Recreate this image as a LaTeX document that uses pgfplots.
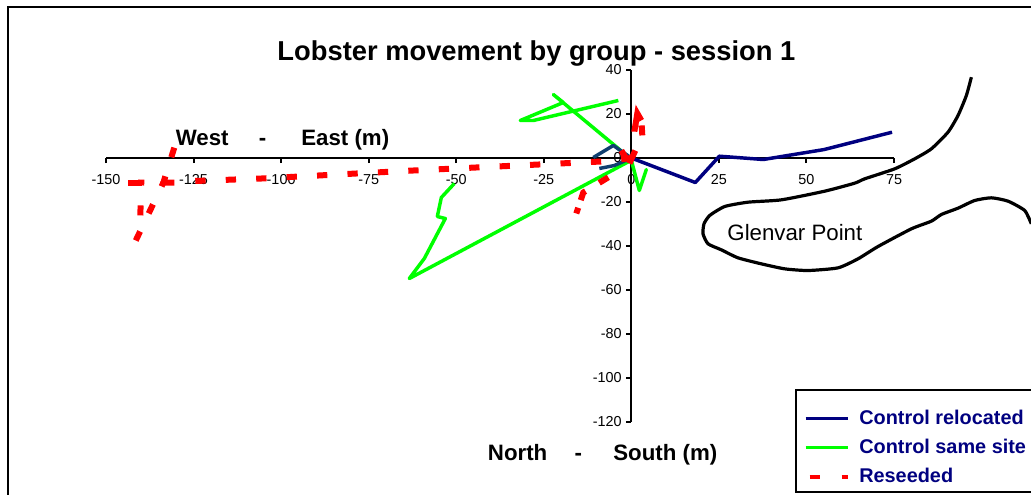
\documentclass[border=0pt]{standalone}
\usepackage{pgfplots}
\pgfplotsset{compat=1.18}
\usepackage{fontspec}
\setmainfont{Liberation Sans}
\definecolor{legnavy}{HTML}{000080}
\definecolor{tealnavy}{HTML}{103F70}
\definecolor{lime}{HTML}{00FF00}
\begin{document}
\begin{tikzpicture}[x=0.75pt,y=0.75pt]
\useasboundingbox (0,0) rectangle (1031,494);
\draw[black,line width=1.5pt] (8,-5) -- (8,486.5) -- (1040,486.5);
\begin{axis}[
  at={(106pt*0.75,72pt*0.75)},
  scale only axis,
  width=591pt,height=264pt,
  anchor=south west,
  xmin=-150,xmax=75,ymin=-120,ymax=40,
  axis lines=middle,
  axis line style={-,line width=1.5pt,black},
  clip=false,
  xtick={-150,-125,-100,-75,-50,-25,0,25,50,75},
  ytick={-120,-100,-80,-60,-40,-20,0,20,40},
  hide obscured x ticks=false,
  hide obscured y ticks=false,
  tick style={black,line width=1.5pt},
  tick align=outside,
  major tick length=3.75pt,
  ticklabel style={font=\fontsize{10.8pt}{12pt}\selectfont,text=black},
  xticklabel style={yshift=-5pt},
  /pgf/number format/assume math mode=true,
  legend style={
    at={(axis description cs:0.8756,0.0909)},anchor=north west,
    draw=none,fill=none,
    font=\fontsize{14.9pt}{16pt}\selectfont\bfseries\color{legnavy},
    inner xsep=5.75pt,inner ysep=13pt,
    row sep=5.5pt,
    cells={anchor=west},
  },
  legend cell align=left,
  legend image code/.code={\draw[#1] (0pt,0pt) -- (31.5pt,0pt);},
]
\addplot[legnavy,line width=2.6pt,line join=round] coordinates {
 (74.44,11.73)(55.1,3.86)(37.69,-0.68)(25.13,0.82)(18.27,-11.14)(0,0)};
\addlegendentry{\hspace*{5.25pt}Control relocated}
\addplot[lime,line width=2.6pt,line join=round] coordinates {
 (-3.71,26.14)(-27.98,17.05)(-31.7,17.05)(-19.42,25.23)(-22.27,28.86)(-3.71,4.32)(0,-1)
 (2.28,-14.77)(4.28,-5.23)(2.28,-14.77)(0,-1)
 (-63.39,-54.77)(-59.11,-45.68)(-53.11,-27.5)(-55.4,-26.6)(-54.25,-17.95)(-50.54,-11.59)};
\addlegendentry{\hspace*{5.25pt}Control same site}
\addplot[forget plot,tealnavy,line width=2.6pt,line join=round] coordinates {
 (0,0)(-5.14,5.68)(-10.85,0.23)};
\addplot[forget plot,tealnavy,line width=2.6pt,line join=round] coordinates {
 (0,0)(-4.85,-3.41)(-9.14,-4.77)};
% main east-west run of the reseeded group
\addplot[red,line width=4.5pt,dash pattern=on 7.7pt off 15.15pt,
  legend image code/.code={\draw[red,line width=3pt,dash pattern=on 7.5pt off 16.5pt] (3pt,0pt) -- (31.5pt,0pt);}] coordinates {
 (-124.5,-10.45)(-105.65,-9.32)(-62.25,-5.68)(-8.57,-1.59)(0,0)};
\addlegendentry{\hspace*{5.25pt}Reseeded}
\addplot[forget plot,red,line width=4.5pt,dash pattern=on 7.5pt off 15pt on 13pt off 15pt] coordinates {
 (-130.5,4.7)(-133.6,-11.14)(-130.5,-11.14)};
\addplot[forget plot,red,line width=4.5pt,dash pattern=on 7.5pt off 15pt] coordinates {
 (-141.5,-37.5)(-133.6,-11.14)};
\addplot[forget plot,red,line width=4.5pt,dash pattern=on 7.5pt off 15pt] coordinates {
 (-140.2,-26.1)(-139.9,-9.8)};
\addplot[forget plot,red,line width=4.5pt] coordinates {
 (-139.6,-11.4)(-143.6,-11.4)};
\addplot[forget plot,red,line width=4.5pt,dash pattern=on 4.5pt off 6pt on 8pt off 12pt on 8pt off 100pt] coordinates {
 (-15.71,-25.2)(-13.71,-15.68)(-5.71,-7.95)(0,0)};
\addplot[forget plot,red,line width=4.5pt,dash pattern=on 10.7pt off 14.3pt on 19.7pt off 3.75pt on 7.5pt off 50pt] coordinates {
 (-0.57,-2.5)(1.14,3.41)(0.86,12.05)(1.71,20.23)(2.86,17.05)(3.14,10.23)};
\addplot[forget plot,red,line width=4.5pt] coordinates {
 (-2.86,3.41)(-1.14,-1.14)};
\addplot[forget plot,black,line width=2.4pt,line join=round,smooth,tension=0.35] coordinates {
 (97.09,36.74)(95.66,28.41)(93.28,19.32)(90.42,11.74)(85.67,4.17)(80.91,-0.38)(75.20,-4.92)
 (66.63,-9.47)(63.77,-11.44)(55.21,-15.08)(42.83,-19.02)(33.32,-20.08)(26.65,-22.05)(22.37,-26.13)
 (20.75,-29.92)(20.47,-34.47)(21.89,-39.0)(25.70,-41.74)(30.46,-45.38)(37.12,-48.11)(43.79,-50.38)
 (50.45,-51.14)(59.02,-49.93)(64.72,-45.83)(70.44,-40.23)(79.95,-32.2)(85.67,-28.71)(88.52,-25.68)
 (93.28,-22.8)(98.04,-19.32)(102.8,-18.1)(107.56,-19.62)(112.32,-23.87)(114.2,-29.9)};
\draw[black,line width=1.5pt,fill=white] (axis description cs:0.8756,0.0909) rectangle (axis description cs:1.185,-0.1989);
\node[font=\fontsize{20.5pt}{22pt}\selectfont\bfseries] at (axis cs:-27.1,47.5) {Lobster movement by group - session 1};
\node[font=\fontsize{16.7pt}{18pt}\selectfont\bfseries] at (axis cs:-99.6,8.5) {West\hspace{22.75pt}-\hspace{26.25pt}East (m)};
\node[font=\fontsize{16.7pt}{18pt}\selectfont\bfseries] at (axis cs:-8.2,-134.7) {North\hspace{20.5pt}-\hspace{23.5pt}South (m)};
\node[font=\fontsize{16.7pt}{18pt}\selectfont] at (axis cs:46.7,-34) {Glenvar Point};
\end{axis}
\end{tikzpicture}
\end{document}
